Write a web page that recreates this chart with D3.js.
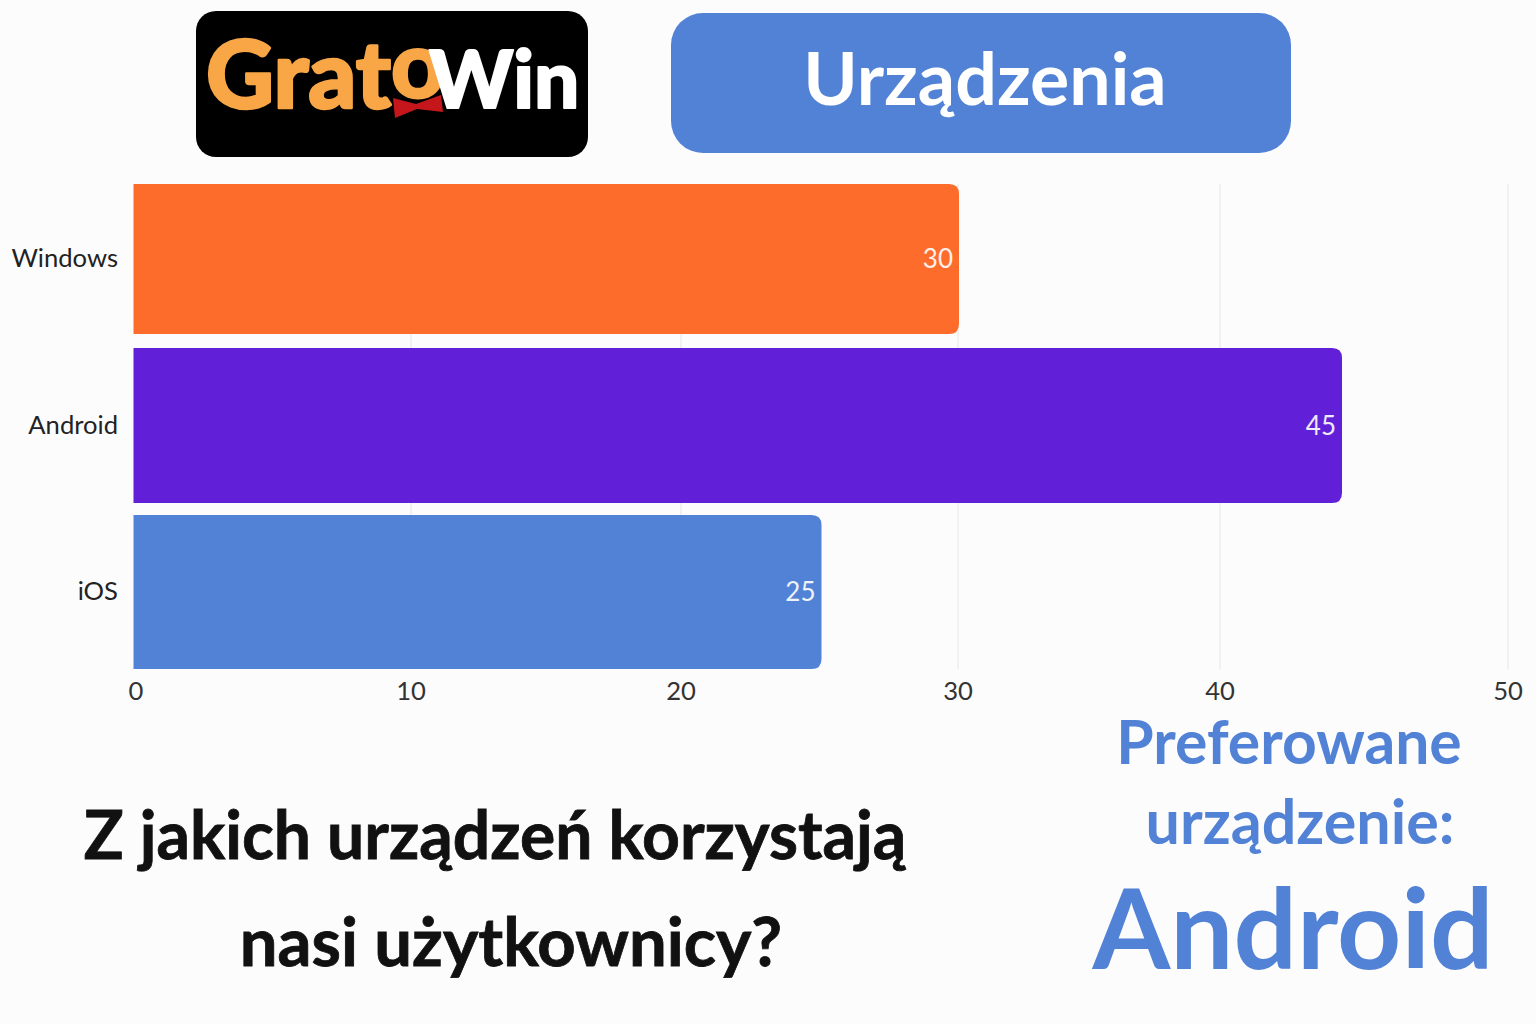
<!DOCTYPE html>
<html><head><meta charset="utf-8">
<script src="https://cdnjs.cloudflare.com/ajax/libs/d3/7.8.5/d3.min.js"></script>
<style>html,body{margin:0;padding:0;background:#fff;overflow:hidden}svg{display:block}text{font-family:Lato,"Open Sans",sans-serif}</style>
</head><body><svg id="c" width="1536" height="1024"></svg>
<script>
const categories=["Windows","Android","iOS"];
const values=[30,45,25];
const barColors=["#fe6c2b","#611fd8","#5282d6"];
const tickValues=[0,10,20,30,40,50];
const tickPixels=[134,411,681,958,1220,1508];
const svg=d3.select("#c");
svg.append("rect").attr("width",1536).attr("height",1024).attr("fill","#fdfcfd");
const x=d3.scaleLinear().domain(tickValues).range(tickPixels);
const bands=[[184,334],[348,503],[515,669]];
const y=d3.scaleOrdinal().domain(categories).range(bands);
svg.append("g").selectAll("line").data(tickValues.slice(1)).join("line")
 .attr("x1",d=>x(d)).attr("x2",d=>x(d)).attr("y1",184).attr("y2",669)
 .attr("stroke","#e6e6e6").attr("stroke-width",1);
function barPath(x0,x1,y0,y1,r){return `M${x0},${y0}H${x1-r}Q${x1},${y0} ${x1},${y0+r}V${y1-r}Q${x1},${y1} ${x1-r},${y1}H${x0}Z`;}
const xb=d3.scaleLinear().domain([0,25,30,45]).range([133.5,821.5,959,1342]);
svg.append("g").selectAll("path").data(categories).join("path")
 .attr("d",(c,i)=>barPath(xb(0),xb(values[i]),y(c)[0],y(c)[1],10))
 .attr("fill",(c,i)=>barColors[i]);
svg.append("g").selectAll("text").data(categories).join("text")
 .attr("x",(c,i)=>xb(values[i])-6).attr("y",c=>(y(c)[0]+y(c)[1])/2+9)
 .attr("text-anchor","end").attr("font-size",26).attr("fill","#fff").attr("opacity",.9)
 .text((c,i)=>values[i]);
svg.append("g").selectAll("text").data(categories).join("text")
 .attr("x",118).attr("y",c=>(y(c)[0]+y(c)[1])/2+8)
 .attr("text-anchor","end").attr("font-size",25.6).attr("fill","#222").text(c=>c);
svg.append("g").selectAll("text").data(tickValues).join("text")
 .attr("x",d=>x(d)+(d===0?2:0)).attr("y",700).attr("text-anchor","middle")
 .attr("font-size",25.6).attr("fill","#333").text(d=>d);
// logo
svg.append("rect").attr("x",196).attr("y",11).attr("width",392).attr("height",146).attr("rx",20).attr("fill","#000");
const logo=svg.append("text").attr("x",206).attr("y",108).attr("font-size",94).attr("font-weight",900).attr("stroke-linejoin","round");
const logoParts=[["Grat","#f8a646",0,0,2.5,94],["o","#f8a646",0,-10,2,94],["Win","#fff",-16,10,2,80]];
logoParts.forEach(p=>logo.append("tspan").attr("fill",p[1]).attr("stroke",p[1]).attr("stroke-width",p[4]).attr("font-size",p[5]).attr("dx",p[2]).attr("dy",p[3]).text(p[0]));
svg.append("path").attr("d",d3.line()([[393,98],[416,104],[441,95],[443,112],[417,109],[395,118]])+"Z").attr("fill","#c5161c");
// pill
svg.append("rect").attr("x",671).attr("y",13).attr("width",620).attr("height",140).attr("rx",32).attr("fill","#5282d6");
svg.append("text").attr("x",985).attr("y",105).attr("text-anchor","middle").attr("font-size",73.5).attr("font-weight",700).attr("fill","#fff").text("Urządzenia");
const q=[["Z jakich urządzeń korzystają",495,859,66],["nasi użytkownicy?",511,966,67]];
svg.append("g").selectAll("text").data(q).join("text")
 .attr("x",d=>d[1]).attr("y",d=>d[2]).attr("text-anchor","middle").attr("font-size",d=>d[3]).attr("font-weight",700)
 .attr("fill","#111").attr("stroke","#111").attr("stroke-width",.8).text(d=>d[0]);
const p=[["Preferowane",1289,764,60.6],["urządzenie:",1300,844,61],["Android",1293,969,112]];
svg.append("g").selectAll("text").data(p).join("text")
 .attr("x",d=>d[1]).attr("y",d=>d[2]).attr("text-anchor","middle").attr("font-size",d=>d[3]).attr("font-weight",700).attr("fill","#5282d6").text(d=>d[0]);
</script></body></html>
